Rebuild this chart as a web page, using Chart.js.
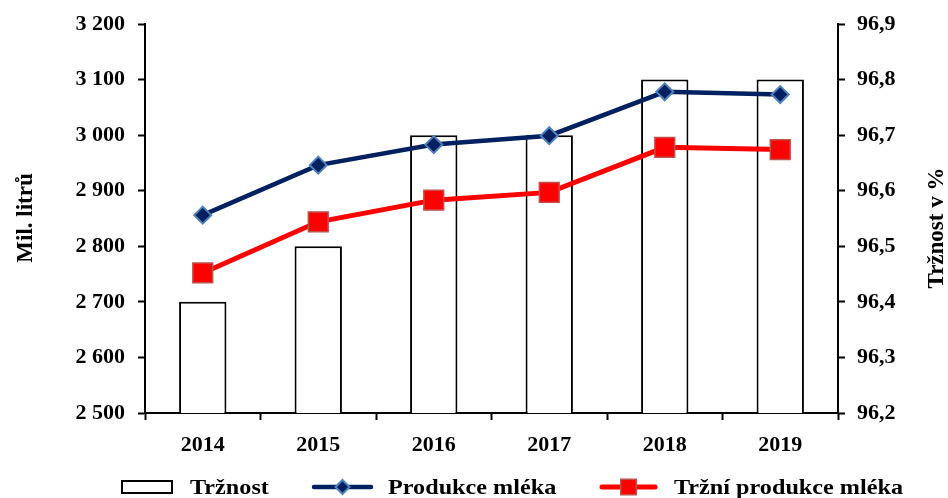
<!DOCTYPE html>
<html>
<head>
<meta charset="utf-8">
<style>
  body { margin: 0; background: #fff; }
  #graf { display: block; }
</style>
</head>
<body>
<canvas id="graf" width="948" height="498"></canvas>

<script src="https://cdn.jsdelivr.net/npm/chart.js"></script>
<script>
  // Roky a hodnoty
  const roky = ['2014', '2015', '2016', '2017', '2018', '2019'];
  const trznost = [96.4, 96.5, 96.7, 96.7, 96.8, 96.8];            // %
  const produkceMleka = [2856, 2946, 2983, 2999, 3078, 3073];      // mil. litrů
  const trzniProdukceMleka = [2752, 2844, 2883, 2897, 2978, 2974]; // mil. litrů

  const pismo = '"Liberation Serif", "Times New Roman", serif';
  const tucne = (size) => ({ family: pismo, size: size, weight: 'bold', lineHeight: 1 });

  // Formát čísel: mezera jako oddělovač tisíců, čárka jako desetinná
  const tisice = (v) => String(Math.round(v)).replace(/\B(?=(\d{3})+(?!\d))/g, ' ');
  const procenta = (v) => Number(v).toFixed(1).replace('.', ',');

  // Popisky os a legenda se kreslí ručně
  const popisky = {
    id: 'popisky',
    afterDraw(chart) {
      const ctx = chart.ctx;
      const ds = chart.data.datasets;
      ctx.save();
      ctx.fillStyle = '#000';
      ctx.textAlign = 'center';
      ctx.textBaseline = 'middle';
      ctx.font = 'bold 23px ' + pismo;

      // svislé popisky os
      const svisle = (text, x, y) => {
        ctx.save();
        ctx.translate(x, y);
        ctx.rotate(-Math.PI / 2);
        ctx.fillText(text, 0, 0);
        ctx.restore();
      };
      svisle('Mil. litrů', 26, 218);
      svisle('Tržnost v %', 937, 228);

      // legenda
      const y = 487;
      const text = (t, x) => {
        ctx.save();
        ctx.translate(x, y + 1);
        ctx.scale(1.1, 1);
        ctx.font = 'bold 22px ' + pismo;
        ctx.textAlign = 'left';
        ctx.fillStyle = '#000';
        ctx.fillText(t, 0, 0);
        ctx.restore();
      };

      const d0 = ds[0];
      ctx.lineWidth = 2;
      ctx.strokeStyle = d0.borderColor;
      ctx.fillStyle = d0.backgroundColor;
      ctx.fillRect(122, y - 6, 50, 12);
      ctx.strokeRect(122, y - 6, 50, 12);
      text(d0.label, 190);

      const cara = (d, x1, x2, xt, styl, r) => {
        ctx.lineWidth = d.borderWidth;
        ctx.strokeStyle = d.borderColor;
        ctx.lineCap = 'round';
        ctx.beginPath();
        ctx.moveTo(x1, y);
        ctx.lineTo(x2, y);
        ctx.stroke();
        ctx.fillStyle = d.pointBackgroundColor;
        ctx.strokeStyle = d.pointBorderColor;
        ctx.lineWidth = d.pointBorderWidth;
        Chart.helpers.drawPoint(ctx, { pointStyle: styl, rotation: 0, radius: r, borderWidth: d.pointBorderWidth }, (x1 + x2) / 2, y);
        text(d.label, xt);
      };
      cara(ds[1], 314, 371, 388, 'rectRot', 7);
      cara(ds[2], 602, 655, 674, 'rect', 11);

      ctx.restore();
    }
  };

  const osa = {
    border: { color: '#000', width: 2 },
    grid: { drawOnChartArea: false, tickLength: 7, tickColor: '#000', tickWidth: 2 },
    ticks: { color: '#000', font: tucne(22), padding: 13 }
  };

  new Chart(document.getElementById('graf'), {
    type: 'bar',
    data: {
      labels: roky,
      datasets: [
        {
          type: 'bar',
          label: 'Tržnost',
          data: trznost,
          yAxisID: 'y1',
          backgroundColor: '#fff',
          borderColor: '#000',
          borderWidth: 2,
          borderSkipped: 'start',
          barPercentage: 0.41,
          categoryPercentage: 1,
          order: 2
        },
        {
          type: 'line',
          label: 'Produkce mléka',
          data: produkceMleka,
          yAxisID: 'y',
          borderColor: '#002060',
          borderWidth: 4.5,
          pointStyle: 'rectRot',
          pointRadius: 8.5,
          pointBackgroundColor: '#002060',
          pointBorderColor: '#4F81BD',
          pointBorderWidth: 2,
          tension: 0,
          order: 1
        },
        {
          type: 'line',
          label: 'Tržní produkce mléka',
          data: trzniProdukceMleka,
          yAxisID: 'y',
          borderColor: '#FF0000',
          borderWidth: 5,
          pointStyle: 'rect',
          pointRadius: 14,
          pointBackgroundColor: '#FF0000',
          pointBorderColor: '#C0504D',
          pointBorderWidth: 1.5,
          tension: 0,
          order: 0
        }
      ]
    },
    options: {
      responsive: false,
      animation: false,
      layout: { padding: { top: 22, left: 0, right: 0, bottom: 0 } },
      plugins: {
        legend: { display: false },
        tooltip: { enabled: false }
      },
      scales: {
        x: {
          ...osa,
          grid: { ...osa.grid, offset: true },
          ticks: { ...osa.ticks, padding: 14 },
          afterFit: (s) => { s.height = 85; }
        },
        y: {
          ...osa,
          position: 'left',
          min: 2500,
          max: 3200,
          ticks: { ...osa.ticks, stepSize: 100, callback: (v) => tisice(v) },
          afterFit: (s) => { s.width = 145; }
        },
        y1: {
          ...osa,
          position: 'right',
          min: 96.2,
          max: 96.9,
          ticks: { ...osa.ticks, padding: 12, stepSize: 0.1, callback: (v) => procenta(v) },
          afterFit: (s) => { s.width = 110; }
        }
      }
    },
    plugins: [popisky]
  });
</script>
</body>
</html>
